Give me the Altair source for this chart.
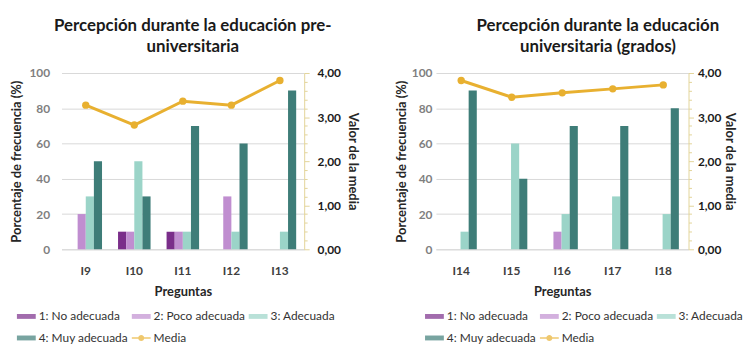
import altair as alt
import pandas as pd

# ---------------- data ----------------
categorias = ["1: No adecuada", "2: Poco adecuada", "3: Adecuada", "4: Muy adecuada"]
leyenda = categorias + ["Media"]
colores = ["#7A2E8A", "#C08ED0", "#9BD4C8", "#3E7D78", "#E8B030"]

titulo_pre = ["Percepción durante la educación pre-", "universitaria"]
preguntas_pre = ["I9", "I10", "I11", "I12", "I13"]
no_pre = [0, 10, 10, 0, 0]
poco_pre = [20, 10, 10, 30, 0]
adec_pre = [30, 50, 10, 10, 10]
muy_pre = [50, 30, 70, 60, 90]
media_pre = [3.27, 2.82, 3.36, 3.27, 3.83]

titulo_uni = ["Percepción durante la educación", "universitaria (grados)"]
preguntas_uni = ["I14", "I15", "I16", "I17", "I18"]
no_uni = [0, 0, 0, 0, 0]
poco_uni = [0, 0, 10, 0, 0]
adec_uni = [10, 60, 20, 30, 20]
muy_uni = [90, 40, 70, 70, 80]
media_uni = [3.83, 3.45, 3.55, 3.64, 3.73]

pct_ticks = [0, 20, 40, 60, 80, 100]
media_ticks = [i / 5 for i in range(21)]

FONT = "Lato"
GOLD = "#E8B030"
RECT = "M-1,-0.26H1V0.26H-1Z"
MEDIA_SYM = "M-1,-0.07H1V0.07H-1Z M0.32,0A0.32,0.32,0,1,1,-0.32,0A0.32,0.32,0,1,1,0.32,0Z"
formas = [RECT, RECT, RECT, RECT, MEDIA_SYM]
MAJOR = "abs(datum.value - round(datum.value)) < 0.001"


def panel(titulo, preguntas, series, media, width, title_dx, legend_x,
          y_lab_pad, y_title_pad, r_lab_pad, r_title_pad):
    rows = []
    for cat, vals in zip(categorias, series):
        for p, v in zip(preguntas, vals):
            rows.append({"pregunta": p, "categoria": cat, "valor": v})
    df_bar = pd.DataFrame(rows)
    df_media = pd.DataFrame({"pregunta": preguntas, "media": media})
    df_leg = pd.DataFrame({"categoria": leyenda})

    legend = alt.Legend(
        title=None, orient="none", legendX=legend_x, legendY=236,
        direction="horizontal", columns=3, symbolSize=361,
        symbolStrokeWidth=0, labelFont=FONT, labelFontSize=12,
        labelColor="#333333", labelOffset=3, columnPadding=3, rowPadding=6,
        padding=0,
    )

    x_enc = alt.X(
        "pregunta:N",
        sort=preguntas,
        scale=alt.Scale(paddingInner=0.33, paddingOuter=0.165),
        axis=alt.Axis(
            title="Preguntas", labelAngle=0, ticks=False, domain=True,
            domainColor="#D9D9D9", labelFont=FONT, labelFontSize=12,
            labelFontWeight="bold", labelColor="#404040", labelPadding=16,
            titleFont=FONT, titleFontSize=13, titleFontWeight="bold",
            titleColor="#262626", titlePadding=10,
        ),
    )

    bars = alt.Chart(df_bar).mark_bar().encode(
        x=x_enc,
        xOffset=alt.XOffset("categoria:N", sort=categorias,
                            scale=alt.Scale(domain=categorias)),
        y=alt.Y(
            "valor:Q",
            scale=alt.Scale(domain=[0, 100]),
            axis=alt.Axis(
                values=pct_ticks, grid=True, gridColor="#D9D9D9", domain=False,
                ticks=False, labelFont=FONT, labelFontSize=12,
                labelFontWeight="bold", labelColor="#7F7F7F",
                labelPadding=y_lab_pad,
                title="Porcentaje de frecuencia (%)", titleFont=FONT,
                titleFontSize=13, titleFontWeight="bold", titleColor="#262626",
                titlePadding=y_title_pad,
            ),
        ),
        color=alt.Color("categoria:N",
                        scale=alt.Scale(domain=leyenda, range=colores),
                        legend=legend),
    )

    line = alt.Chart(df_media).mark_line(
        color=GOLD, strokeWidth=3,
        point=alt.OverlayMarkDef(filled=True, size=55, color=GOLD),
    ).encode(
        x=alt.X("pregunta:N", sort=preguntas),
        y=alt.Y(
            "media:Q",
            scale=alt.Scale(domain=[0, 4]),
            axis=alt.Axis(
                orient="right", values=media_ticks, grid=False,
                labelOverlap=False,
                labelExpr=MAJOR + " ? replace(format(datum.value, '.2f'), '.', ',') : ''",
                domainColor="#E3D49A", tickColor="#E3D49A",
                tickSize={"condition": {"test": MAJOR, "value": 5}, "value": 3},
                labelFont=FONT, labelFontSize=12, labelFontWeight="bold",
                labelColor="#1A1A1A", labelPadding=r_lab_pad,
                title="Valor de la media", titleFont=FONT, titleFontSize=13,
                titleFontWeight="bold", titleColor="#262626",
                titlePadding=r_title_pad,
            ),
        ),
    )

    legend_layer = alt.Chart(df_leg).mark_point(filled=True).encode(
        color=alt.Color("categoria:N",
                        scale=alt.Scale(domain=leyenda, range=colores),
                        legend=legend),
        shape=alt.Shape("categoria:N",
                        scale=alt.Scale(domain=leyenda, range=formas),
                        legend=legend),
    ).transform_filter("false")

    return alt.layer(bars, line, legend_layer).resolve_scale(
        y="independent"
    ).properties(
        width=width, height=178,
        title=alt.TitleParams(
            text=titulo, font=FONT, fontSize=17, fontWeight="bold",
            color="#1A1A1A", lineHeight=21, frame="group", anchor="middle",
            dx=title_dx, offset=11,
        ),
    )


left = panel(titulo_pre, preguntas_pre,
             [no_pre, poco_pre, adec_pre, muy_pre], media_pre,
             245, 10, -45, 12, 5, 8, 5)
right = panel(titulo_uni, preguntas_uni,
              [no_uni, poco_uni, adec_uni, muy_uni], media_uni,
              255, 36, -11, 4, 3, 4, 2)

chart = alt.hconcat(left, right, spacing=37).resolve_scale(
    color="independent", shape="independent"
).resolve_legend(
    color="independent", shape="independent"
).properties(
    padding={"left": 3, "top": 8, "right": 0, "bottom": 0},
).configure_view(stroke=None)

chart.save("out.html", embed_options={"renderer": "svg", "actions": False})
